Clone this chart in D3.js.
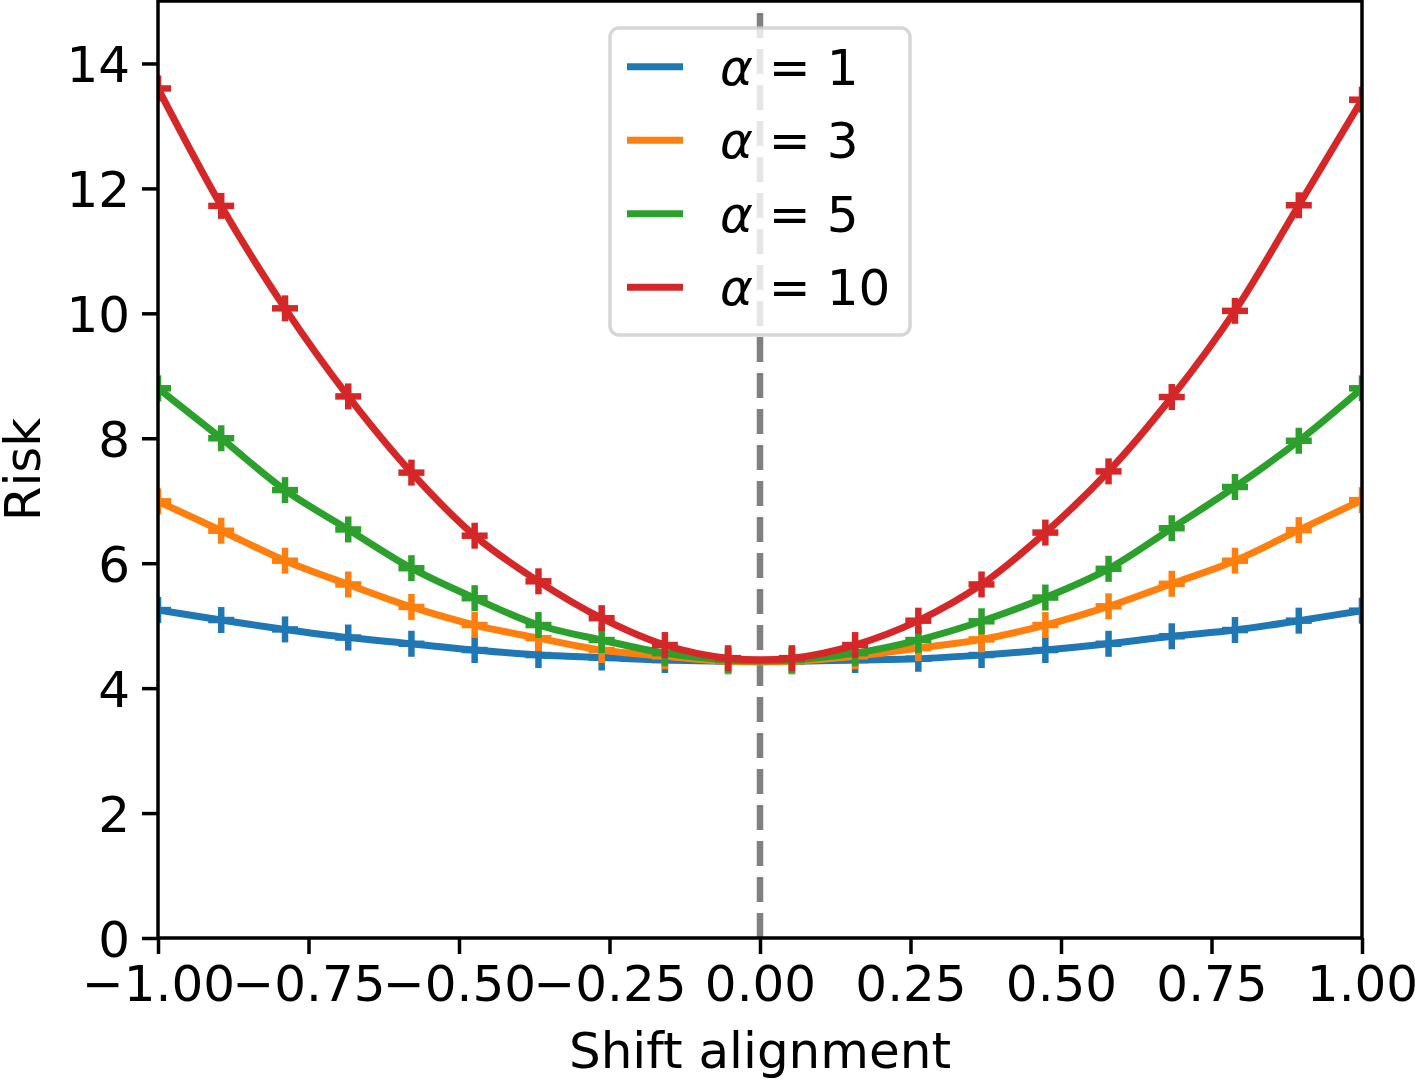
<!DOCTYPE html>
<html>
<head>
<meta charset="utf-8">
<script src="https://cdn.jsdelivr.net/npm/d3@7"></script>
<style>
  body { margin: 0; background: #fff; }
  svg { display: block; font-family: "DejaVu Sans", sans-serif; }
</style>
</head>
<body>
<svg id="drawing_region"></svg>
<script>
// 20 evaluation points on [-1, 1]
var shift = [-1.000, -0.895, -0.789, -0.684, -0.579, -0.474, -0.368, -0.263, -0.158, -0.053,
              0.053,  0.158,  0.263,  0.368,  0.474,  0.579,  0.684,  0.789,  0.895,  1.000];

var risk_a1  = [5.25, 5.09, 4.94, 4.81, 4.71, 4.61, 4.53, 4.49, 4.45, 4.43,
                4.43, 4.45, 4.47, 4.53, 4.61, 4.71, 4.83, 4.93, 5.08, 5.24];
var risk_a3  = [6.99, 6.52, 6.04, 5.66, 5.30, 5.01, 4.80, 4.61, 4.51, 4.43,
                4.43, 4.51, 4.64, 4.78, 5.01, 5.31, 5.67, 6.04, 6.53, 7.01];
var risk_a5  = [8.80, 8.00, 7.17, 6.54, 5.92, 5.44, 5.01, 4.77, 4.56, 4.45,
                4.45, 4.56, 4.77, 5.07, 5.45, 5.91, 6.56, 7.22, 7.96, 8.80];
var risk_a10 = [13.60, 11.72, 10.08, 8.67, 7.45, 6.44, 5.71, 5.12, 4.69, 4.48,
                4.48, 4.69, 5.08, 5.66, 6.49, 7.47, 8.66, 10.04, 11.73, 13.42];

var seriesNames = ['α = 1', 'α = 3', 'α = 5', 'α = 10'];
var seriesColors = ['#1f77b4', '#ff7f0e', '#2ca02c', '#d62728'];
var xTicks = [-1, -0.75, -0.5, -0.25, 0, 0.25, 0.5, 0.75, 1];
var yTicks = [0, 2, 4, 6, 8, 10, 12, 14];

var width = 1415;
var height = 1081;
var margin = {top: 1, right: 53, bottom: 143, left: 158};
var inner_width = width - margin.left - margin.right;
var inner_height = height - margin.top - margin.bottom;
var fontSize = '50px';

var svg = d3.select('#drawing_region')
    .attr('width', width)
    .attr('height', height);

var chart = svg.append('g')
    .attr('transform', `translate(${margin.left}, ${margin.top})`);

var xscale = d3.scaleLinear().domain([-1, 1]).range([0, inner_width]);
var yscale = d3.scaleLinear().domain([0, 15]).range([inner_height, 0]);

chart.append('clipPath').attr('id', 'clip')
  .append('rect')
    .attr('width', inner_width)
    .attr('height', inner_height);

var plot = chart.append('g').attr('clip-path', 'url(#clip)');

// dashed line at zero shift
plot.append('line')
    .attr('x1', xscale(0)).attr('x2', xscale(0))
    .attr('y1', inner_height).attr('y2', 0)
    .attr('stroke', '#808080')
    .attr('stroke-width', 6.5)
    .attr('stroke-dasharray', '25,11');

var series = [risk_a1, risk_a3, risk_a5, risk_a10].map((vals, i) => ({
    name: seriesNames[i],
    color: seriesColors[i],
    points: vals.map((v, j) => ({x: shift[j], y: v}))
}));

var line = d3.line()
    .x(d => xscale(d.x))
    .y(d => yscale(d.y))
    .curve(d3.curveCatmullRom);

var arm = 13;

series.forEach(s => {
    plot.append('path')
        .datum(s.points)
        .attr('d', line)
        .attr('fill', 'none')
        .attr('stroke', s.color)
        .attr('stroke-width', 7);

    var m = plot.append('g').selectAll('g')
        .data(s.points)
        .join('g')
        .attr('transform', d => `translate(${xscale(d.x)}, ${yscale(d.y)})`);
    m.append('line').attr('x1', -arm).attr('x2', arm).attr('y1', 0).attr('y2', 0)
        .attr('stroke', s.color).attr('stroke-width', 6.5);
    m.append('line').attr('x1', 0).attr('x2', 0).attr('y1', -arm).attr('y2', arm)
        .attr('stroke', s.color).attr('stroke-width', 6.5);
});

// axes
var fmtX = d3.format('.2f');
var xaxis = d3.axisBottom(xscale).tickValues(xTicks).tickFormat(fmtX)
    .tickSize(16).tickPadding(10).tickSizeOuter(0);
var yaxis = d3.axisLeft(yscale).tickValues(yTicks)
    .tickSize(16).tickPadding(12).tickSizeOuter(0);

var xg = chart.append('g')
    .attr('transform', `translate(0, ${inner_height})`)
    .call(xaxis);
var yg = chart.append('g').call(yaxis);

[xg, yg].forEach(g => {
    g.select('.domain').remove();
    g.selectAll('.tick line').attr('stroke', '#000').attr('stroke-width', 3.5);
    g.selectAll('.tick text').attr('fill', '#000')
        .style('font-size', fontSize).style('font-family', '"DejaVu Sans", sans-serif');
});
xg.selectAll('.tick text').attr('dy', '0.74em');
yg.selectAll('.tick text').attr('dy', '0.36em');

// frame
chart.append('rect')
    .attr('width', inner_width)
    .attr('height', inner_height)
    .attr('fill', 'none')
    .attr('stroke', '#000')
    .attr('stroke-width', 3.5);

// axis titles
svg.append('text')
    .attr('x', margin.left + inner_width / 2)
    .attr('y', 1068)
    .attr('text-anchor', 'middle')
    .style('font-size', fontSize)
    .text('Shift alignment');

svg.append('text')
    .attr('transform', `translate(40, ${margin.top + inner_height / 2}) rotate(-90)`)
    .attr('text-anchor', 'middle')
    .style('font-size', fontSize)
    .text('Risk');

// legend
var legend = svg.append('g');
legend.append('rect')
    .attr('x', 610).attr('y', 28)
    .attr('width', 300).attr('height', 307)
    .attr('rx', 9).attr('ry', 9)
    .attr('fill', '#fff').attr('fill-opacity', 0.8)
    .attr('stroke', '#cccccc').attr('stroke-opacity', 0.8)
    .attr('stroke-width', 3.5);

var rows = legend.selectAll('g.row')
    .data(series)
    .join('g')
    .attr('class', 'row')
    .attr('transform', (d, i) => `translate(0, ${66.7 + i * 73.5})`);

rows.append('line')
    .attr('x1', 627).attr('x2', 683)
    .attr('stroke', d => d.color)
    .attr('stroke-width', 7);

var txt = rows.append('text')
    .attr('x', 720)
    .attr('dy', '0.36em')
    .style('font-size', fontSize);
txt.append('tspan').style('font-style', 'italic').text(d => d.name.split(' ')[0]);
txt.append('tspan').text(d => ' ' + d.name.split(' ').slice(1).join(' '));
</script>
</body>
</html>
